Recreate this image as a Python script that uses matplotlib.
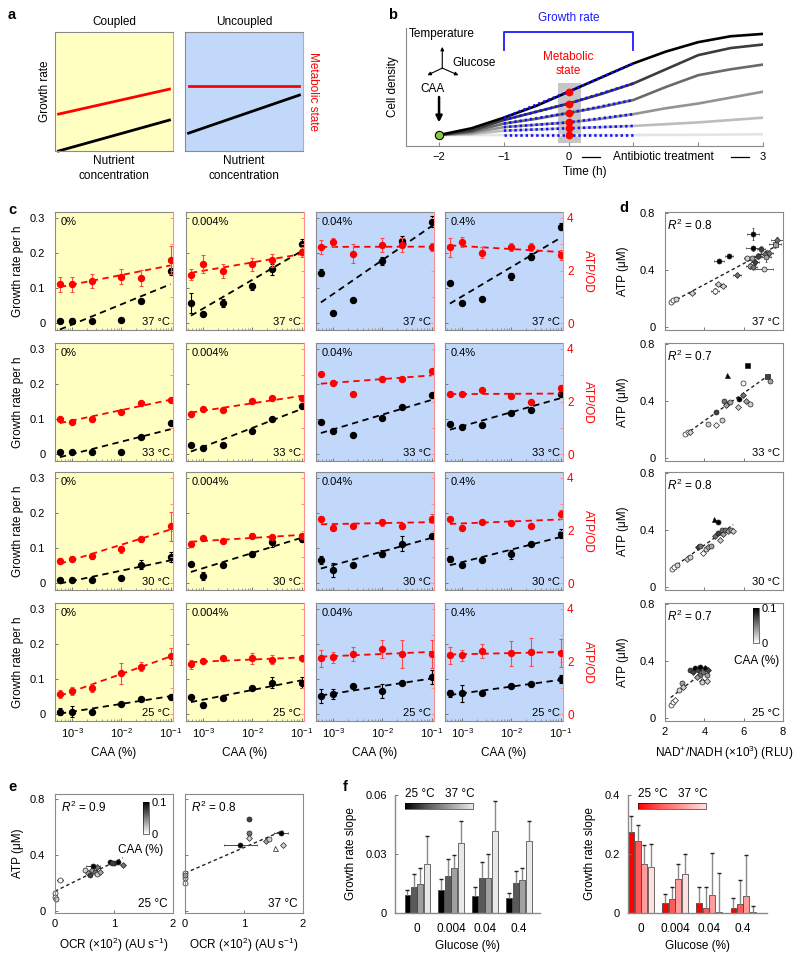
import numpy as np
import matplotlib
matplotlib.use('Agg')
import matplotlib.pyplot as plt
from matplotlib.colors import Normalize, LinearSegmentedColormap
from matplotlib.cm import ScalarMappable

plt.rcParams['font.family'] = ['Liberation Sans', 'DejaVu Sans']
plt.rcParams['font.size'] = 8
plt.rcParams['mathtext.fontset'] = 'custom'
plt.rcParams['mathtext.rm'] = 'Liberation Sans'
plt.rcParams['mathtext.it'] = 'Liberation Sans:italic'

# ----------------------------------------------------------------------
# data
# ----------------------------------------------------------------------

# panel a (schematic lines, axes fraction)
a_x = [0.03, 0.97]
a_coupled_black = [0.0, 0.26]
a_coupled_red = [0.31, 0.52]
a_uncoupled_black = [0.15, 0.47]
a_uncoupled_red = [0.55, 0.55]

# panel b (schematic growth curves)
b_time = [-2, -1.5, -1, -0.5, 0, 0.5, 1, 1.5, 2, 2.5, 3]
b_curves = [
    [0.093, 0.15, 0.24, 0.34, 0.46, 0.58, 0.70, 0.80, 0.88, 0.93, 0.95],
    [0.093, 0.13, 0.22, 0.29, 0.36, 0.44, 0.53, 0.65, 0.77, 0.83, 0.86],
    [0.093, 0.12, 0.19, 0.23, 0.28, 0.33, 0.39, 0.50, 0.60, 0.65, 0.69],
    [0.093, 0.11, 0.16, 0.18, 0.20, 0.23, 0.27, 0.32, 0.36, 0.41, 0.46],
    [0.093, 0.10, 0.13, 0.14, 0.15, 0.16, 0.17, 0.185, 0.20, 0.22, 0.24],
    [0.093, 0.093, 0.093, 0.093, 0.093, 0.093, 0.093, 0.094, 0.095, 0.097, 0.10],
]
b_grays = ['#000000', '#3c3c3c', '#6a6a6a', '#939393', '#bdbdbd', '#e4e4e4']
b_fit_time = [-1, 0, 1]
b_fits = [
    [0.24, 0.46, 0.70],
    [0.22, 0.36, 0.53],
    [0.19, 0.28, 0.39],
    [0.16, 0.20, 0.27],
    [0.13, 0.15, 0.17],
    [0.093, 0.093, 0.093],
]

# panel c: rows = 37, 33, 30, 25 °C ; cols = glucose 0, 0.004, 0.04, 0.4 %
caa = [5.6e-4, 1e-3, 2.5e-3, 1e-2, 2.5e-2, 1e-1]
glucose_pct = ['0%', '0.004%', '0.04%', '0.4%']
temps = ['37 °C', '33 °C', '30 °C', '25 °C']

growth_37 = [[0.006, 0.006, 0.006, 0.010, 0.063, 0.148],
             [0.058, 0.025, 0.057, 0.105, 0.153, 0.225],
             [0.143, 0.030, 0.067, 0.177, 0.233, 0.289],
             [0.115, 0.058, 0.068, 0.134, 0.189, 0.275]]
growth_37_err = [[0.003, 0.008, 0.003, 0.003, 0.005, 0.010],
                 [0.028, 0.004, 0.012, 0.010, 0.015, 0.015],
                 [0.010, 0.004, 0.004, 0.012, 0.015, 0.015],
                 [0.004, 0.004, 0.004, 0.010, 0.010, 0.010]]
atp_37 = [[1.47, 1.47, 1.60, 1.77, 1.73, 2.41],
          [1.84, 2.24, 1.97, 2.24, 2.39, 2.71],
          [2.89, 3.07, 2.64, 2.96, 2.96, 2.89],
          [2.88, 3.09, 2.68, 2.91, 2.91, 2.59]]
atp_37_err = [[0.27, 0.27, 0.27, 0.30, 0.30, 0.53],
              [0.20, 0.35, 0.27, 0.25, 0.25, 0.20],
              [0.27, 0.15, 0.35, 0.27, 0.27, 0.15],
              [0.35, 0.20, 0.20, 0.15, 0.15, 0.20]]

growth_33 = [[0.006, 0.006, 0.006, 0.006, 0.049, 0.090],
             [0.025, 0.017, 0.027, 0.066, 0.100, 0.136],
             [0.092, 0.066, 0.054, 0.102, 0.133, 0.168],
             [0.085, 0.078, 0.082, 0.116, 0.127, 0.172]]
growth_33_err = [[0.004, 0.004, 0.004, 0.004, 0.004, 0.005],
                 [0.004, 0.004, 0.004, 0.004, 0.004, 0.004],
                 [0.004, 0.004, 0.004, 0.004, 0.004, 0.004],
                 [0.004, 0.004, 0.004, 0.004, 0.004, 0.004]]
atp_33 = [[1.33, 1.21, 1.32, 1.59, 1.95, 2.07],
          [1.51, 1.72, 1.69, 2.03, 2.12, 2.12],
          [3.04, 2.72, 2.27, 2.84, 2.87, 3.17],
          [2.29, 2.29, 2.44, 2.21, 1.99, 2.53]]
atp_33_err = [[0.08, 0.08, 0.08, 0.08, 0.08, 0.08],
              [0.08, 0.08, 0.08, 0.08, 0.08, 0.08],
              [0.08, 0.08, 0.08, 0.08, 0.08, 0.08],
              [0.08, 0.08, 0.08, 0.08, 0.08, 0.08]]

growth_30 = [[0.010, 0.010, 0.010, 0.014, 0.053, 0.075],
             [0.055, 0.021, 0.053, 0.082, 0.116, 0.127],
             [0.066, 0.037, 0.052, 0.084, 0.113, 0.133],
             [0.069, 0.053, 0.066, 0.082, 0.112, 0.141]]
growth_30_err = [[0.004, 0.004, 0.003, 0.003, 0.012, 0.015],
                 [0.006, 0.012, 0.004, 0.008, 0.012, 0.010],
                 [0.012, 0.020, 0.004, 0.010, 0.020, 0.005],
                 [0.008, 0.005, 0.004, 0.012, 0.006, 0.012]]
atp_30 = [[0.84, 0.93, 1.03, 1.29, 1.67, 2.17],
          [1.49, 1.71, 1.59, 1.80, 1.76, 1.80],
          [2.45, 2.11, 2.16, 2.31, 2.17, 2.44],
          [2.45, 2.11, 2.33, 2.29, 2.17, 2.61]]
atp_30_err = [[0.10, 0.10, 0.10, 0.13, 0.10, 0.55],
              [0.10, 0.10, 0.08, 0.10, 0.08, 0.10],
              [0.10, 0.10, 0.08, 0.12, 0.12, 0.17],
              [0.08, 0.10, 0.08, 0.08, 0.10, 0.17]]

growth_25 = [[0.007, 0.007, 0.007, 0.030, 0.043, 0.050],
             [0.049, 0.025, 0.045, 0.075, 0.090, 0.090],
             [0.052, 0.057, 0.079, 0.067, 0.090, 0.105],
             [0.060, 0.059, 0.060, 0.079, 0.086, 0.100]]
growth_25_err = [[0.010, 0.015, 0.004, 0.004, 0.004, 0.004],
                 [0.004, 0.006, 0.004, 0.004, 0.015, 0.015],
                 [0.020, 0.015, 0.004, 0.020, 0.004, 0.020],
                 [0.010, 0.025, 0.004, 0.004, 0.004, 0.012]]
atp_25 = [[0.76, 0.88, 1.00, 1.56, 1.81, 2.20],
          [1.89, 2.01, 2.12, 2.12, 2.07, 2.13],
          [2.12, 2.16, 2.28, 2.48, 2.28, 2.28],
          [2.23, 2.23, 2.40, 2.31, 2.37, 2.32]]
atp_25_err = [[0.16, 0.16, 0.16, 0.40, 0.16, 0.33],
              [0.16, 0.05, 0.05, 0.20, 0.16, 0.05],
              [0.33, 0.20, 0.27, 0.33, 0.53, 0.53],
              [0.33, 0.20, 0.27, 0.47, 0.53, 0.53]]

growth_rows = [growth_37, growth_33, growth_30, growth_25]
growth_err_rows = [growth_37_err, growth_33_err, growth_30_err, growth_25_err]
atp_rows = [atp_37, atp_33, atp_30, atp_25]
atp_err_rows = [atp_37_err, atp_33_err, atp_30_err, atp_25_err]

# panel d: ATP vs NAD+/NADH, level = CAA index (0 = no CAA ... 5 = 0.1 %)
d_r2 = ['0.8', '0.7', '0.8', '0.7']
d_x_37 = [2.31, 2.42, 2.54, 3.36, 4.54, 4.71, 4.96, 4.76, 5.27, 5.64, 6.18, 6.40, 6.32,
          6.46, 6.49, 6.49, 6.86, 7.07, 7.27, 7.14, 6.58, 7.03, 7.59, 7.71, 6.71]
d_y_37 = [0.178, 0.19, 0.20, 0.24, 0.255, 0.30, 0.29, 0.463, 0.498, 0.365, 0.482, 0.482, 0.43,
          0.42, 0.552, 0.653, 0.547, 0.51, 0.52, 0.49, 0.457, 0.405, 0.583, 0.61, 0.50]
d_lv_37 = [0, 0, 1, 1, 0, 1, 1, 5, 5, 3, 1, 2, 2, 3, 5, 5, 4, 3, 3, 2, 4, 1, 2, 3, 4]
d_xerr_37 = [0.1, 0.1, 0.1, 0.15, 0.2, 0.15, 0.15, 0.25, 0.2, 0.2, 0.15, 0.15, 0.2,
             0.2, 0.35, 0.3, 0.2, 0.2, 0.2, 0.25, 0.2, 0.45, 0.3, 0.3, 0.2]
d_yerr_37 = [0.01, 0.01, 0.01, 0.01, 0.02, 0.01, 0.01, 0.015, 0.015, 0.015, 0.015, 0.015, 0.02,
             0.015, 0.02, 0.045, 0.02, 0.02, 0.02, 0.03, 0.02, 0.01, 0.03, 0.02, 0.02]
d_x_33 = [3.02, 3.16, 3.25, 4.17, 4.59, 4.88, 4.59, 5.00, 5.16, 5.32, 5.08, 5.17, 5.73, 5.78,
          5.95, 5.98, 6.12, 6.32, 6.15, 7.17, 7.34]
d_y_33 = [0.168, 0.18, 0.18, 0.237, 0.232, 0.27, 0.323, 0.40, 0.38, 0.395, 0.37, 0.585, 0.36,
          0.414, 0.44, 0.527, 0.40, 0.38, 0.652, 0.576, 0.54]
d_lv_33 = [0, 0, 1, 1, 0, 1, 4, 3, 3, 2, 2, 5, 1, 5, 3, 0, 2, 1, 5, 4, 2]
d_x_30 = [2.34, 2.47, 2.59, 3.10, 3.27, 3.69, 3.78, 3.95, 4.07, 4.20, 4.32, 4.49, 4.71, 4.54,
          4.71, 4.80, 4.88, 4.96, 5.05, 5.22, 5.34, 5.47]
d_y_30 = [0.127, 0.14, 0.155, 0.20, 0.21, 0.28, 0.29, 0.24, 0.27, 0.28, 0.29, 0.48, 0.456, 0.36,
          0.38, 0.33, 0.40, 0.37, 0.40, 0.395, 0.40, 0.395]
d_lv_30 = [0, 0, 1, 1, 1, 4, 3, 0, 1, 2, 2, 5, 5, 3, 4, 1, 3, 2, 3, 2, 2, 1]
d_x_25 = [2.29, 2.39, 2.51, 2.73, 2.85, 2.93, 3.27, 3.44, 3.53, 3.69, 3.78, 3.86, 3.95, 4.03,
          4.12, 4.20, 3.78, 3.61, 3.90, 4.12]
d_y_25 = [0.089, 0.11, 0.13, 0.20, 0.245, 0.22, 0.336, 0.32, 0.35, 0.336, 0.30, 0.26, 0.32, 0.35,
          0.30, 0.34, 0.36, 0.29, 0.25, 0.26]
d_lv_25 = [0, 0, 0, 1, 2, 1, 4, 4, 5, 4, 3, 1, 3, 5, 2, 4, 5, 2, 1, 1]
d_mk_37 = 'oooDoDDooDoooDoooDDoDosDo'
d_mk_33 = 'ooDoDoooDoD^DoDoDosso'
d_mk_30 = 'oooDoDoDoDo^oDoDoDoDoD'
d_mk_25 = 'ooDooDoDoDoDoDoDoDoD'
d_x_rows = [d_x_37, d_x_33, d_x_30, d_x_25]
d_y_rows = [d_y_37, d_y_33, d_y_30, d_y_25]
d_lv_rows = [d_lv_37, d_lv_33, d_lv_30, d_lv_25]
d_mk_rows = [d_mk_37, d_mk_33, d_mk_30, d_mk_25]

# panel e: ATP vs OCR
e_temps = ['25 °C', '37 °C']
e_r2 = ['0.9', '0.8']
e_x_25 = [0.0, 0.0, 0.02, 0.08, 0.51, 0.56, 0.59, 0.62, 0.68, 0.71, 0.71, 0.76, 0.93, 1.0,
          1.07, 1.15, 0.96, 0.65]
e_y_25 = [0.125, 0.10, 0.08, 0.22, 0.29, 0.27, 0.257, 0.29, 0.28, 0.316, 0.26, 0.28, 0.348,
          0.34, 0.348, 0.33, 0.34, 0.32]
e_lv_25 = [0, 0, 1, 0, 1, 2, 4, 2, 3, 3, 1, 2, 5, 4, 5, 3, 4, 5]
e_xerr_25 = [0.0, 0.0, 0.0, 0.05, 0.0, 0.0, 0.0, 0.0, 0.0, 0.0, 0.0, 0.0, 0.0, 0.0, 0.0, 0.0,
             0.0, 0.12]
e_x_37 = [0.0, 0.0, 0.0, 0.0, 0.94, 1.08, 1.08, 1.08, 1.37, 1.42, 1.53, 1.66, 1.62]
e_y_37 = [0.27, 0.235, 0.20, 0.255, 0.47, 0.557, 0.52, 0.66, 0.50, 0.51, 0.45, 0.47, 0.56]
e_lv_37 = [0, 1, 0, 2, 5, 3, 1, 4, 2, 1, 0, 1, 5]
e_xerr_37 = [0.0, 0.0, 0.0, 0.0, 0.28, 0.0, 0.0, 0.0, 0.0, 0.0, 0.0, 0.0, 0.12]
e_mk_25 = 'oooooDoDoDoDoooDoo'
e_mk_37 = 'ooooooDoDo^Do'

# panel f: growth-rate slope per glucose; rows = 25, 30, 33, 37 °C
glucose_ticks = ['0', '0.004', '0.04', '0.4']
f_ctrl_slope = [[0.0092, 0.0118, 0.0088, 0.0077],
                [0.0130, 0.0189, 0.0177, 0.0153],
                [0.0146, 0.0228, 0.0180, 0.0170],
                [0.0248, 0.0355, 0.0417, 0.0365]]
f_ctrl_top = [[0.0117, 0.0175, 0.0130, 0.0100],
              [0.0200, 0.0277, 0.0260, 0.0215],
              [0.0230, 0.0293, 0.0300, 0.0230],
              [0.0390, 0.0470, 0.0570, 0.0470]]
f_atp_slope = [[0.276, 0.035, 0.035, 0.016],
               [0.245, 0.047, 0.016, 0.030],
               [0.166, 0.114, 0.060, 0.057],
               [0.157, 0.132, 0.003, 0.002]]
f_atp_top = [[0.330, 0.063, 0.087, 0.050],
             [0.300, 0.089, 0.089, 0.113],
             [0.230, 0.165, 0.204, 0.197],
             [0.234, 0.200, 0.137, 0.025]]
f_grays = ['#000000', '#5a5a5a', '#a0a0a0', '#e8e8e8']
f_reds = ['#ff0000', '#ff5a5a', '#ff9c9c', '#ffe0e0']

# ----------------------------------------------------------------------
# layout helpers
# ----------------------------------------------------------------------
W, H = 800, 960
YELLOW = '#ffffc2'
BLUE = '#c2d8fa'
SPINE = '#8a8a8a'
RED = '#ff0000'
PINK = '#ff8f8f'

fig = plt.figure(figsize=(8, 9.6), dpi=100)


def px_axes(x0, y0, x1, y1):
    return fig.add_axes([x0 / W, 1 - y1 / H, (x1 - x0) / W, (y1 - y0) / H])


def style_spines(ax, color=SPINE, lw=0.8):
    for s in ax.spines.values():
        s.set_color(color)
        s.set_linewidth(lw)


def panel_letter(x, y, s):
    fig.text(x / W, 1 - y / H, s, fontsize=10.5, fontweight='bold', ha='left', va='center')


def level_color(lv):
    return str([1.0, 0.82, 0.64, 0.45, 0.25, 0.0][lv])


# ----------------------------------------------------------------------
# a
# ----------------------------------------------------------------------
panel_letter(8, 15, 'a')
a_specs = [('Coupled', YELLOW, 55, a_coupled_black, a_coupled_red),
           ('Uncoupled', BLUE, 185, a_uncoupled_black, a_uncoupled_red)]
for i, (title, bg, left, blk, red) in enumerate(a_specs):
    ax = px_axes(left, 32, left + 118, 151)
    ax.set_facecolor(bg)
    style_spines(ax)
    ax.spines['right'].set_color(PINK)
    ax.plot(a_x, blk, color='k', lw=2, clip_on=False)
    ax.plot(a_x, red, color=RED, lw=2)
    ax.set_xlim(0, 1)
    ax.set_ylim(0, 1)
    ax.set_xticks([])
    ax.set_yticks([])
    ax.set_title(title, fontsize=8.5, pad=5)
    ax.set_xlabel('Nutrient\nconcentration', fontsize=8.5, labelpad=3, linespacing=1.3)
    if i == 0:
        ax.set_ylabel('Growth rate', fontsize=8.5, labelpad=3)
    else:
        ax.yaxis.set_label_position('right')
        ax.set_ylabel('Metabolic state', fontsize=8.5, color=RED, rotation=270,
                      va='bottom', labelpad=3)

# ----------------------------------------------------------------------
# b
# ----------------------------------------------------------------------
panel_letter(388, 15, 'b')
ax = px_axes(406, 28, 763, 146)
ax.set_xlim(-2.51, 3)
ax.set_ylim(0, 1)
for s in ['top', 'right']:
    ax.spines[s].set_visible(False)
style_spines(ax)
ax.axvspan(-0.16, 0.19, ymin=0.025, ymax=0.53, color='#c6c6c6', lw=0, zorder=0.5)
for curve, g in list(zip(b_curves, b_grays))[::-1]:
    ax.plot(b_time, curve, color=g, lw=1.9, zorder=2)
for fit in b_fits:
    ax.plot(b_fit_time, fit, color='#1010ff', lw=1.9, ls=(0, (0.9, 1.1)), zorder=3)
ax.plot([0] * len(b_fits), [f[1] for f in b_fits], 'o', color=RED, ms=5.6, mew=0, zorder=4)
ax.plot([-2], [b_curves[0][0]], 'o', mfc='#8cc63e', mec='k', mew=0.8, ms=6, zorder=5)
ax.plot([-1, -1, 1, 1], [0.81, 0.97, 0.97, 0.81], color='#1a1aff', lw=1.3, clip_on=False)
ax.text(0, 1.085, 'Growth rate', color='#1a1aff', fontsize=8.5, ha='center', va='center')
ax.text(0, 0.695, 'Metabolic\nstate', color=RED, fontsize=8.5, ha='center', va='center',
        linespacing=1.15)
ax.text(-2.47, 0.95, 'Temperature', fontsize=8.5, ha='left', va='center')
ax.text(-1.79, 0.70, 'Glucose', fontsize=8.5, ha='left', va='center')
ax.text(-2.10, 0.48, 'CAA', fontsize=8.5, ha='center', va='center')
for tip in [(-1.95, 0.84), (-2.18, 0.60), (-1.70, 0.60)]:
    ax.annotate('', xy=tip, xytext=(-1.95, 0.66),
                arrowprops=dict(arrowstyle='-|>', lw=0.8, color='k', mutation_scale=5,
                                shrinkA=0, shrinkB=0))
ax.annotate('', xy=(-2.0, 0.20), xytext=(-2.0, 0.415),
            arrowprops=dict(arrowstyle='-|>', lw=1.8, color='k', mutation_scale=9,
                            shrinkA=0, shrinkB=0))
ax.set_xticks([-2, -1, 0, 1, 2, 3])
ax.set_xticklabels(['\u22122', '\u22121', '0', '', '', '3'])
ax.set_yticks([])
ax.tick_params(axis='x', direction='in', length=3, width=0.8, color=SPINE, pad=4)
trans = ax.get_xaxis_transform()
ax.text(1.465, -0.093, 'Antibiotic treatment', fontsize=8.5, ha='center', va='center',
        transform=trans)
ax.plot([0.21, 0.49], [-0.093, -0.093], color='k', lw=0.9, transform=trans, clip_on=False)
ax.plot([2.5, 2.78], [-0.093, -0.093], color='k', lw=0.9, transform=trans, clip_on=False)
ax.set_xlabel('Time (h)', fontsize=8.5, labelpad=3)
ax.set_ylabel('Cell density', fontsize=8.5, labelpad=5)

# ----------------------------------------------------------------------
# c
# ----------------------------------------------------------------------
panel_letter(8, 210, 'c')
c_lefts = [55, 186, 316, 445]
row_tops = [212, 343, 472, 603]
G_LIM = (-0.0194, 0.3167)
A_LIM = (G_LIM[0] * 40 / 3, G_LIM[1] * 40 / 3)
lx = np.log10(caa)
for r in range(4):
    for c in range(4):
        L, T = c_lefts[c], row_tops[r]
        ax = px_axes(L, T, L + 118, T + 118)
        ax.set_facecolor(YELLOW if c < 2 else BLUE)
        ax.set_xscale('log')
        ax.set_xlim(4.45e-4, 0.112)
        ax.set_ylim(*G_LIM)
        style_spines(ax)
        ax.spines['right'].set_visible(False)
        ax2 = ax.twinx()
        ax2.set_ylim(*A_LIM)
        for s in ['left', 'top', 'bottom']:
            ax2.spines[s].set_visible(False)
        ax2.spines['right'].set_color(PINK)
        ax2.spines['right'].set_linewidth(0.8)

        g = growth_rows[r][c]
        a = atp_rows[r][c]
        k, b0 = np.polyfit(lx, g, 1)
        ax.plot([caa[0], caa[-1]], [k * lx[0] + b0, k * lx[-1] + b0], color='k',
                lw=1.3, dashes=(3.5, 2.5))
        ax.errorbar(caa, g, yerr=growth_err_rows[r][c], fmt='o', color='k', ms=4.3,
                    elinewidth=0.8, capsize=1.3, capthick=0.8)
        k, b0 = np.polyfit(lx, a, 1)
        ax2.plot([caa[0], caa[-1]], [k * lx[0] + b0, k * lx[-1] + b0], color=RED,
                 lw=1.3, dashes=(3.5, 2.5))
        ax2.errorbar(caa, a, yerr=atp_err_rows[r][c], fmt='o', color=RED, ecolor='#ff4a4a',
                     ms=4.3, elinewidth=0.8, capsize=1.3, capthick=0.8)

        ax.set_yticks([0, 0.1, 0.2, 0.3])
        ax.set_xticks([1e-3, 1e-2, 1e-1])
        ax.tick_params(direction='in', length=2.5, width=0.7, color='#777777', pad=7)
        ax.tick_params(axis='x', which='minor', direction='in', length=1.5, width=0.5,
                       color='#777777')
        ax.tick_params(axis='x', pad=4)
        ax2.set_yticks([0, 2, 4])
        ax2.set_yticks([1, 3], minor=True)
        ax2.tick_params(which='both', direction='in', length=2.5, width=0.7, color=PINK,
                        labelcolor=RED, pad=3, labelsize=8.5)
        if c == 0:
            ax.set_yticklabels(['0', '0.1', '0.2', '0.3'])
            ax.set_ylabel('Growth rate per h', fontsize=8.5, labelpad=4)
        else:
            ax.set_yticklabels([])
        if c == 3:
            ax2.set_yticklabels(['0', '2', '4'])
            ax2.set_ylabel('ATP/OD', fontsize=8.5, color=RED, rotation=270, va='bottom',
                           labelpad=6)
        else:
            ax2.set_yticklabels([])
        if r == 3:
            ax.set_xlabel('CAA (%)', fontsize=8.5, labelpad=5)
        else:
            ax.set_xticklabels([])
            ax.xaxis.set_minor_formatter(plt.NullFormatter())
        ax.text(0.05, 0.915, glucose_pct[c], transform=ax.transAxes, fontsize=8,
                ha='left', va='center')
        ax.text(0.975, 0.065, temps[r], transform=ax.transAxes, fontsize=8,
                ha='right', va='center')

# ----------------------------------------------------------------------
# d
# ----------------------------------------------------------------------
panel_letter(619, 208, 'd')
gray_norm = Normalize(0, 0.1)
for r in range(4):
    T = row_tops[r]
    ax = px_axes(665, T, 783, T + 118)
    style_spines(ax)
    xs, ys = np.array(d_x_rows[r]), np.array(d_y_rows[r])
    k, b0 = np.polyfit(xs, ys, 1)
    ax.plot([xs.min(), xs.max()], [k * xs.min() + b0, k * xs.max() + b0], color='#222222',
            lw=1.0, dashes=(2.5, 2))
    if r == 0:
        ax.errorbar(xs, ys, xerr=d_xerr_37, yerr=d_yerr_37, fmt='none', ecolor='#444444',
                    elinewidth=0.6, capsize=1, capthick=0.5)
    for x, y, lv, m in zip(xs, ys, d_lv_rows[r], d_mk_rows[r]):
        ax.plot(x, y, m, mfc=level_color(lv), mec='#222222', mew=0.5,
                ms=3.6 if m != 'D' else 3.0)
    ax.set_xlim(2, 8)
    ax.set_ylim(-0.021, 0.808)
    ax.set_xticks([2, 4, 6, 8])
    ax.set_yticks([0, 0.4, 0.8])
    ax.set_yticklabels(['0', '0.4', '0.8'])
    ax.tick_params(direction='in', length=2.5, width=0.7, color='#777777', pad=7)
    ax.tick_params(axis='x', pad=4)
    ax.set_ylabel('ATP (\u03bcM)', fontsize=8.5, labelpad=8)
    ax.text(0.02, 0.89, '$R^2$ = ' + d_r2[r], transform=ax.transAxes, fontsize=8.5,
            ha='left', va='center')
    ax.text(0.975, 0.065, temps[r], transform=ax.transAxes, fontsize=8,
            ha='right', va='center')
    if r == 3:
        ax.set_xticklabels(['2', '4', '6', '8'])
        ax.set_xlabel('NAD$^{+}$/NADH (\u00d710$^{3}$) (RLU)', fontsize=8.5, labelpad=5)
        cax = px_axes(753, 608, 759, 643)
        cb = fig.colorbar(ScalarMappable(norm=gray_norm, cmap='gray_r'), cax=cax)
        cb.set_ticks([0, 0.1])
        cb.set_ticklabels(['0', '0.1'])
        cb.outline.set_linewidth(0.4)
        cb.ax.tick_params(length=0, labelsize=8, pad=2)
        fig.text(757 / W, 1 - 661 / H, 'CAA (%)', fontsize=8.5, ha='center', va='center')
    else:
        ax.set_xticklabels([])

# ----------------------------------------------------------------------
# e
# ----------------------------------------------------------------------
panel_letter(8, 787, 'e')
e_sets = [(e_x_25, e_y_25, e_lv_25, e_xerr_25, e_mk_25),
          (e_x_37, e_y_37, e_lv_37, e_xerr_37, e_mk_37)]
for i, (ex, ey, elv, exerr, emk) in enumerate(e_sets):
    left = [55, 185][i]
    ax = px_axes(left, 794, left + 118, 913)
    style_spines(ax)
    xs, ys = np.array(ex), np.array(ey)
    k, b0 = np.polyfit(xs, ys, 1)
    ax.plot([xs.min(), xs.max()], [k * xs.min() + b0, k * xs.max() + b0], color='#222222',
            lw=1.0, dashes=(2.5, 2))
    ax.errorbar(xs, ys, xerr=exerr, fmt='none', ecolor='#444444', elinewidth=0.7,
                capsize=1, capthick=0.5)
    for x, y, lv, m in zip(xs, ys, elv, emk):
        ax.plot(x, y, m, mfc=level_color(lv), mec='#222222', mew=0.5,
                ms=3.6 if m != 'D' else 3.0, clip_on=False)
    ax.set_xlim(0, 2)
    ax.set_ylim(-0.017, 0.836)
    ax.set_xticks([0, 1, 2])
    ax.set_xticklabels(['0', '1', '2'])
    ax.set_yticks([0, 0.4, 0.8])
    ax.tick_params(direction='in', length=2.5, width=0.7, color='#777777', pad=7)
    ax.tick_params(axis='x', pad=4)
    ax.set_xlabel('OCR (\u00d710$^{2}$) (AU s$^{-1}$)', fontsize=8.5, labelpad=5)
    ax.text(0.05, 0.885, '$R^2$ = ' + e_r2[i], transform=ax.transAxes, fontsize=8.5,
            ha='left', va='center')
    ax.text(0.955, 0.075, e_temps[i], transform=ax.transAxes, fontsize=8.5,
            ha='right', va='center')
    if i == 0:
        ax.set_yticklabels(['0', '0.4', '0.8'])
        ax.set_ylabel('ATP (\u03bcM)', fontsize=8.5, labelpad=4)
        cax = px_axes(143, 802, 149, 834)
        cb = fig.colorbar(ScalarMappable(norm=gray_norm, cmap='gray_r'), cax=cax)
        cb.set_ticks([0, 0.1])
        cb.set_ticklabels(['0', '0.1'])
        cb.outline.set_linewidth(0.4)
        cb.ax.tick_params(length=0, labelsize=8, pad=2)
        fig.text(141 / W, 1 - 850 / H, 'CAA (%)', fontsize=8.5, ha='center', va='center')
    else:
        ax.set_yticklabels([])

# ----------------------------------------------------------------------
# f
# ----------------------------------------------------------------------
panel_letter(343, 787, 'f')
f_sets = [(395, 540, f_ctrl_slope, f_ctrl_top, f_grays, (0, 0.06), [0, 0.03, 0.06],
           ['0', '0.03', '0.06'], (-0.65, 3.62), 405),
          (628, 767, f_atp_slope, f_atp_top, f_reds, (0, 0.4), [0, 0.2, 0.4],
           ['0', '0.2', '0.4'], (-0.38, 3.7), 638)]
for (x0, x1, vals, tops, cols, ylim, yt, ytl, xlim, lg_x) in f_sets:
    ax = px_axes(x0, 795, x1, 913)
    for s in ['top', 'right']:
        ax.spines[s].set_visible(False)
    style_spines(ax, lw=1.0)
    groups = np.arange(len(glucose_ticks))
    for k in range(4):
        xk = groups + (k - 1.5) * 0.19
        ax.bar(xk, vals[k], width=0.17, color=cols[k], edgecolor='#333333', lw=0.5)
        ax.vlines(xk, vals[k], tops[k], color='#8a8a8a', lw=1.0, clip_on=False)
        ax.plot(xk, tops[k], ls='none', marker='_', color='#222222', ms=2.5, mew=1.0,
                clip_on=False)
    ax.set_xlim(*xlim)
    ax.set_ylim(*ylim)
    ax.set_yticks(yt)
    ax.set_yticklabels(ytl)
    ax.set_xticks(groups)
    ax.set_xticklabels(glucose_ticks, fontsize=8.5)
    ax.tick_params(axis='x', length=0, pad=7)
    ax.tick_params(axis='y', direction='in', length=2.5, width=0.7, color='#777777', pad=6)
    ax.set_xlabel('Glucose (%)', fontsize=8.5, labelpad=4)
    ax.set_ylabel('Growth rate slope', fontsize=8.5, labelpad=6)
    # temperature legend bar
    cax = px_axes(lg_x, 803, lg_x + 68, 809)
    cmap = LinearSegmentedColormap.from_list('t', cols)
    cb = fig.colorbar(ScalarMappable(norm=Normalize(0, 1), cmap=cmap), cax=cax,
                      orientation='horizontal')
    cb.set_ticks([])
    cb.outline.set_linewidth(0.4)
    fig.text(lg_x / W, 1 - 794 / H, '25 °C', fontsize=8.5, ha='left', va='center')
    fig.text((lg_x + 70) / W, 1 - 794 / H, '37 °C', fontsize=8.5, ha='right', va='center')

fig.savefig('out.png', dpi=100)
